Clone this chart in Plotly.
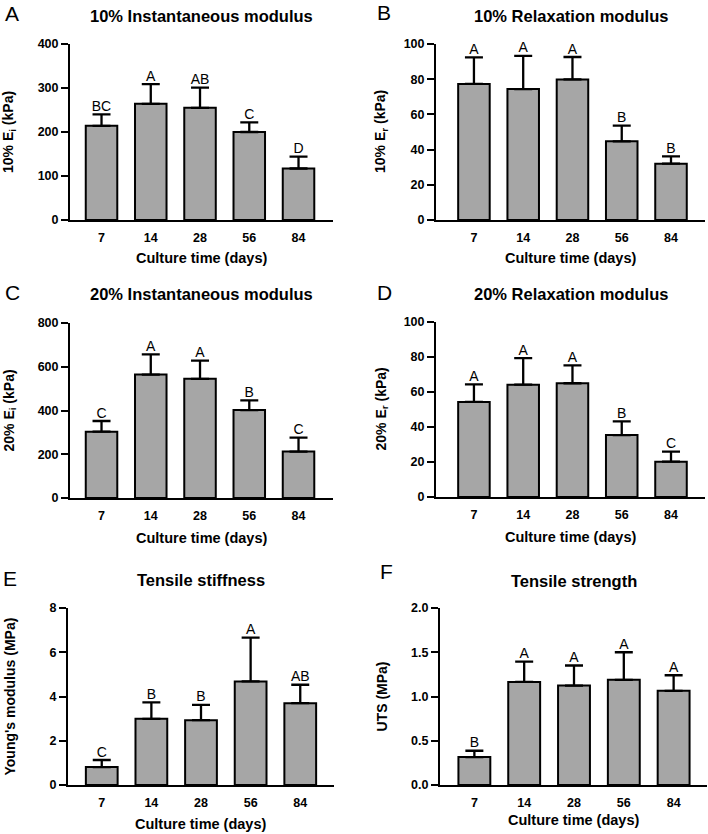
import plotly.graph_objects as go

# culture time categories
days = ["7", "14", "28", "56", "84"]

# panel A: 10% instantaneous modulus (kPa)
ei10 = [214, 264, 255, 200, 117]
ei10_sd = [26, 45, 46, 22, 27]
ei10_grp = ["BC", "A", "AB", "C", "D"]

# panel B: 10% relaxation modulus (kPa)
er10 = [77.3, 74.4, 79.9, 44.7, 32.0]
er10_sd = [15.1, 18.8, 12.7, 8.9, 4.2]
er10_grp = ["A", "A", "A", "B", "B"]

# panel C: 20% instantaneous modulus (kPa)
ei20 = [303, 564, 545, 402, 212]
ei20_sd = [49, 93, 83, 44, 64]
ei20_grp = ["C", "A", "A", "B", "C"]

# panel D: 20% relaxation modulus (kPa)
er20 = [54.3, 64.2, 65.0, 35.4, 20.2]
er20_sd = [10.1, 15.2, 10.2, 7.8, 5.7]
er20_grp = ["A", "A", "A", "B", "C"]

# panel E: Young's modulus (MPa)
young = [0.81, 2.99, 2.93, 4.68, 3.70]
young_sd = [0.32, 0.74, 0.69, 1.98, 0.83]
young_grp = ["C", "B", "B", "A", "AB"]

# panel F: UTS (MPa)
uts = [0.316, 1.165, 1.124, 1.188, 1.064]
uts_sd = [0.071, 0.23, 0.226, 0.312, 0.176]
uts_grp = ["B", "A", "A", "A", "A"]

W, H = 708, 834
FONT = "Liberation Sans"


def px_x(v):
    return v / W


def px_y(v):
    return 1 - v / H


# (letter, title, ytitle, values, sd, groups, yrange, dtick, tickformat,
#  x px domain, y px domain (top, bottom), xrange, title y, letter pos, xtitle y, ytitle x)
panels = [
    ("A", "10% Instantaneous modulus", "10% E<sub>i</sub> (kPa)", ei10, ei10_sd, ei10_grp,
     [0, 400], 100, "", (70, 333), (44, 220), [-0.64, 4.70], 16, (12, 13), 258, 9),
    ("B", "10% Relaxation modulus", "10% E<sub>r</sub> (kPa)", er10, er10_sd, er10_grp,
     [0, 100], 20, "", (436, 705), (44, 220), [-0.77, 4.69], 16, (384, 12), 258, 381),
    ("C", "20% Instantaneous modulus", "20% E<sub>i</sub> (kPa)", ei20, ei20_sd, ei20_grp,
     [0, 800], 200, "", (70, 333), (323, 498), [-0.64, 4.70], 294, (12, 292), 538, 9),
    ("D", "20% Relaxation modulus", "20% E<sub>r</sub> (kPa)", er20, er20_sd, er20_grp,
     [0, 100], 20, "", (436, 705), (322, 497), [-0.77, 4.69], 294, (384, 292), 537, 381),
    ("E", "Tensile stiffness", "Young's modulus (MPa)", young, young_sd, young_grp,
     [0, 8], 2, "", (68, 334), (608, 785), [-0.68, 4.68], 580, (10, 578), 824, 9),
    ("F", "Tensile strength", "UTS (MPa)", uts, uts_sd, uts_grp,
     [0, 2], 0.5, ".1f", (440, 707), (608, 785), [-0.69, 4.67], 581, (386, 571), 820, 381),
]

fig = go.Figure()
layout = dict(
    width=W, height=H,
    margin=dict(l=0, r=0, t=0, b=0, pad=0, autoexpand=False),
    paper_bgcolor="white", plot_bgcolor="white",
    showlegend=False,
    font=dict(family=FONT, color="black"),
    annotations=[],
)

for i, (letter, title, ytitle, vals, sd, grp, yr, dt, tf,
        xd, yd, xr, ty, lpos, xty, ytx) in enumerate(panels):
    n = "" if i == 0 else str(i + 1)
    xa, ya = "x" + n, "y" + n
    tops = [v + s for v, s in zip(vals, sd)]

    fig.add_trace(go.Bar(
        x=days, y=vals, xaxis=xa, yaxis=ya, width=0.64,
        marker=dict(color="#a6a6a6", line=dict(color="black", width=2)),
        error_y=dict(type="data", array=sd, arrayminus=[0] * len(sd), symmetric=False,
                     color="black", thickness=2.3, width=9),
    ))
    fig.add_trace(go.Scatter(
        x=days, y=tops, xaxis=xa, yaxis=ya, mode="text", text=grp,
        textposition="top center", cliponaxis=False,
        textfont=dict(family=FONT, size=14, color="black"),
    ))

    layout["xaxis" + n] = dict(
        domain=[px_x(xd[0]), px_x(xd[1])], anchor=ya, type="category", range=xr,
        showline=True, linecolor="black", linewidth=2, automargin=False,
        ticks="outside", ticklen=5, tickcolor="rgba(0,0,0,0)",
        tickfont=dict(family=FONT, size=12.5, weight="bold"),
        showgrid=False, zeroline=False, fixedrange=True,
    )
    layout["yaxis" + n] = dict(
        domain=[px_y(yd[1]), px_y(yd[0])], anchor=xa, range=yr, dtick=dt,
        tickformat=tf, showline=True, linecolor="black", linewidth=2, automargin=False,
        ticks="outside", ticklen=7, tickwidth=2, tickcolor="black",
        tickfont=dict(family=FONT, size=12.5, weight="bold"),
        showgrid=False, zeroline=False, fixedrange=True,
    )

    cx = px_x((xd[0] + xd[1]) / 2)
    cy = px_y((yd[0] + yd[1]) / 2)
    layout["annotations"] += [
        dict(text=title, x=cx, y=px_y(ty), xref="paper", yref="paper",
             showarrow=False, xanchor="center", yanchor="middle",
             font=dict(family=FONT, size=16.5, weight="bold")),
        dict(text=letter, x=px_x(lpos[0]), y=px_y(lpos[1]), xref="paper", yref="paper",
             showarrow=False, xanchor="center", yanchor="middle",
             font=dict(family=FONT, size=21)),
        dict(text="Culture time (days)", x=cx, y=px_y(xty), xref="paper", yref="paper",
             showarrow=False, xanchor="center", yanchor="middle",
             font=dict(family=FONT, size=14.5, weight="bold")),
        dict(text=ytitle, x=px_x(ytx), y=cy, xref="paper", yref="paper", textangle=-90,
             showarrow=False, xanchor="center", yanchor="middle",
             font=dict(family=FONT, size=14, weight="bold")),
    ]

fig.update_layout(**layout)
# drop the browser's default 8px body margin so the figure fills the window
fig.write_html("out.html", config={"displayModeBar": False},
               post_script="document.body.style.margin = '0';")
